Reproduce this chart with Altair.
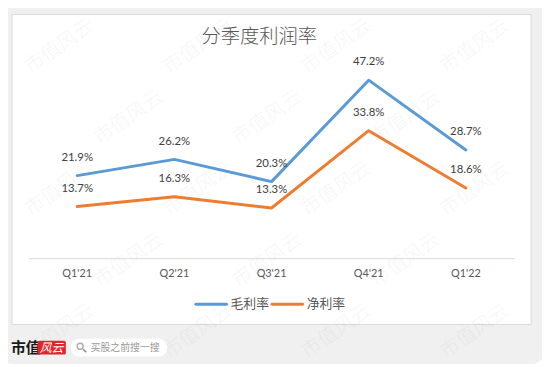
import altair as alt
import pandas as pd

# ---- data ----
quarters = ["Q1'21", "Q2'21", "Q3'21", "Q4'21", "Q1'22"]
gross_margin = [21.9, 26.2, 20.3, 47.2, 28.7]
net_margin = [13.7, 16.3, 13.3, 33.8, 18.6]
series = ["毛利率", "净利率"]
colors = ["#5B9BD5", "#ED7D31"]
title_text = "分季度利润率"
watermark_text = "市值风云"
footer_brand = "市值"
footer_logo = "风云"
footer_search = "买股之前搜一搜"

df = pd.DataFrame({
    "quarter": quarters * 2,
    "series": [series[0]] * len(quarters) + [series[1]] * len(quarters),
    "value": gross_margin + net_margin,
})

one = pd.DataFrame({"k": [0]})
LAT = "Lato"
CJK = "Noto Sans CJK SC"

xscale = alt.Scale(type="point", domain=quarters, range=[78, 471], padding=0)
yscale = alt.Scale(domain=[0, 50], range=[259, 68.3], nice=False, zero=False)

layers = []

# background card
layers.append(alt.Chart(one).mark_rect(fill="#f0f0f0", cornerRadius=12).encode(
    x=alt.value(0), x2=alt.value(550), y=alt.value(0), y2=alt.value(366)))
# inner white panel
layers.append(alt.Chart(one).mark_rect(fill="white", stroke="#d9d9d9", strokeWidth=1).encode(
    x=alt.value(12), x2=alt.value(537), y=alt.value(12.5), y2=alt.value(326)))

# watermark grid (decoration)
wm = []
for r in range(5):
    for c in range(4):
        wm.append({"px": 60 + c * 140 + (70 if r % 2 else 0), "py": 45 + r * 72, "t": watermark_text})
wm_df = pd.DataFrame(wm)
wm_df = wm_df[wm_df["px"] < 510]
layers.append(alt.Chart(wm_df).mark_text(font=CJK, fontSize=20, fontWeight=300, angle=325, color="#000000",
                                          opacity=0.03, align="center", baseline="middle").encode(
    x=alt.X("px:Q", scale=None), y=alt.Y("py:Q", scale=None), text="t:N"))

# axis line
layers.append(alt.Chart(one).mark_rule(color="#d9d9d9", strokeWidth=1).encode(
    x=alt.value(29), x2=alt.value(520), y=alt.value(259.5)))

# x labels
layers.append(alt.Chart(pd.DataFrame({"quarter": quarters})).mark_text(
    font=LAT, fontSize=11, color="#595959", baseline="middle").encode(
    x=alt.X("quarter:O", scale=xscale, axis=None), y=alt.value(275), text="quarter:N"))

# lines
layers.append(alt.Chart(df).mark_line(strokeWidth=3, strokeCap="round", strokeJoin="round").encode(
    x=alt.X("quarter:O", scale=xscale, axis=None, sort=quarters),
    y=alt.Y("value:Q", scale=yscale, axis=None),
    color=alt.Color("series:N", scale=alt.Scale(domain=series, range=colors), legend=None),
    detail="series:N"))

# value labels
layers.append(alt.Chart(df).transform_calculate(
    label="format(datum.value, '.1f') + '%'").mark_text(
    font=LAT, fontSize=11.5, color="#404040", dy=-18, baseline="middle").encode(
    x=alt.X("quarter:O", scale=xscale, axis=None),
    y=alt.Y("value:Q", scale=yscale, axis=None),
    text="label:N"))

# title
layers.append(alt.Chart(one).mark_text(font=CJK, fontSize=19.5, fontWeight=300, color="#595959",
                                       align="center", baseline="middle").encode(
    x=alt.value(262), y=alt.value(35), text=alt.value(title_text)))

# legend
leg_x = [198, 275]
for s, col, lx in zip(series, colors, leg_x):
    layers.append(alt.Chart(one).mark_rule(color=col, strokeWidth=3, strokeCap="round").encode(
        x=alt.value(lx), x2=alt.value(lx + 31), y=alt.value(305.5)))
    layers.append(alt.Chart(one).mark_text(font=CJK, fontSize=13, color="#595959",
                                           align="left", baseline="middle").encode(
        x=alt.value(lx + 35), y=alt.value(305.5), text=alt.value(s)))

# footer
layers.append(alt.Chart(one).mark_text(font=CJK, fontSize=15, fontWeight="bold", color="#1a1a1a",
                                       align="left", baseline="middle").encode(
    x=alt.value(11), y=alt.value(349.5), text=alt.value(footer_brand)))
layers.append(alt.Chart(one).mark_rect(fill="#e8222b", cornerRadius=2).encode(
    x=alt.value(38), x2=alt.value(66.5), y=alt.value(342.5), y2=alt.value(356.5)))
layers.append(alt.Chart(one).mark_text(font=CJK, fontSize=12, fontStyle="italic", color="white",
                                       align="center", baseline="middle").encode(
    x=alt.value(52), y=alt.value(349.5), text=alt.value(footer_logo)))
layers.append(alt.Chart(one).mark_rect(fill="white", cornerRadius=9).encode(
    x=alt.value(71.5), x2=alt.value(169), y=alt.value(340.5), y2=alt.value(358.5)))
layers.append(alt.Chart(one).mark_point(shape="circle", size=36, filled=False, color="#8c8c8c",
                                        strokeWidth=1.5).encode(
    x=alt.value(81), y=alt.value(348)))
layers.append(alt.Chart(one).mark_rule(color="#8c8c8c", strokeWidth=1.5).encode(
    x=alt.value(84), x2=alt.value(87), y=alt.value(351), y2=alt.value(354)))
layers.append(alt.Chart(one).mark_text(font=CJK, fontSize=10, color="#9a9a9a",
                                       align="left", baseline="middle").encode(
    x=alt.value(91.5), y=alt.value(349.5), text=alt.value(footer_search)))

chart = alt.layer(*layers).properties(
    width=548, height=364,
    autosize=alt.AutoSizeParams(type="none"),
    padding={"left": -8, "top": -8, "right": 0, "bottom": 0},
    background="white",
).configure_view(stroke=None)

chart.save("out.html", embed_options={"renderer": "svg", "actions": False})
